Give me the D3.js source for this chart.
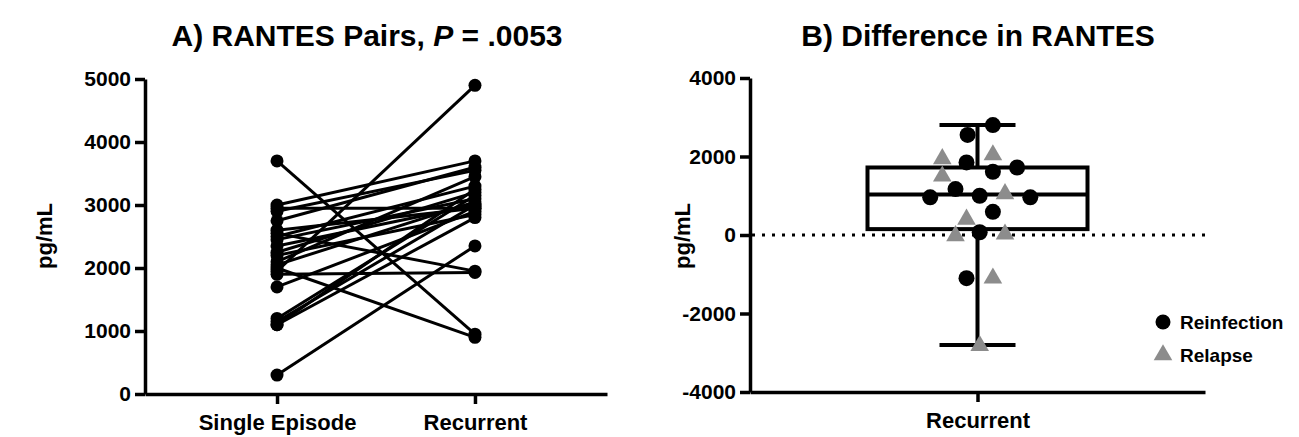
<!DOCTYPE html>
<html>
<head>
<meta charset="utf-8">
<script src="https://cdn.jsdelivr.net/npm/d3@7"></script>
<style>
  body { margin: 0; background: #fff; }
  svg text { font-family: "Liberation Sans", Arial, sans-serif; font-weight: bold; }
</style>
</head>
<body>
<script>
// panel A: paired values (pg/mL)
const groups = ["Single Episode", "Recurrent"];
const singleEpisode = [300, 3700, 1950, 2000, 1900, 2550, 2950, 3000, 2900, 2750, 2500, 2450, 2350, 2200, 2100, 2050, 1700, 1200, 1150, 1100, 1100, 2600, 2250];
const recurrent =     [2350, 950, 4900, 900, 1930, 1950, 2950, 3700, 3550, 3600, 3300, 3100, 3000, 2850, 3450, 3050, 2900, 3150, 3000, 2800, 3250, 2950, 3200];
const yTicksA = [0, 1000, 2000, 3000, 4000, 5000];

// panel B: differences, with dodge offsets (fraction of half box width)
const reinfection = [2800, 2550, 1850, 1610, 1720, 1170, 960, 1000, 960, 590, 70, -1100];
const reinfectionDodge = [0.14, -0.09, -0.1, 0.14, 0.36, -0.2, -0.43, 0.02, 0.48, 0.14, 0.02, -0.1];
const relapse = [1940, 2040, 1500, 1050, 400, -20, 20, -1100, -2820];
const relapseDodge = [-0.32, 0.14, -0.32, 0.25, -0.1, -0.2, 0.25, 0.14, 0.02];
const boxStats = { min: -2800, q1: 150, median: 1030, q3: 1720, max: 2800 };
const yTicksB = [-4000, -2000, 0, 2000, 4000];

const width = 1299, height = 437;
const svg = d3.select("body").append("svg").attr("width", width).attr("height", height);

function styleAxis(g) {
  g.selectAll("path, line").attr("stroke", "#000").attr("stroke-width", 3.5);
  g.selectAll("text").attr("font-size", 21).attr("fill", "#000");
}

// ---------- A ----------
const xA = d3.scalePoint().domain(groups).range([145, 607]).padding(0.667);
const yA = d3.scaleLinear().domain([0, 5000]).range([394, 79]);

svg.append("text").attr("x", 367).attr("y", 46).attr("text-anchor", "middle")
  .attr("font-size", 30)
  .html('A) RANTES Pairs, <tspan font-style="italic">P</tspan> = .0053');

svg.append("g").attr("transform", "translate(145,0)")
  .call(d3.axisLeft(yA).tickValues(yTicksA).tickFormat(d => String(d)).tickSize(10).tickSizeOuter(0).tickPadding(4))
  .call(styleAxis);

const axA = svg.append("g").attr("transform", "translate(0,394)")
  .call(d3.axisBottom(xA).tickSize(10).tickSizeOuter(0).tickPadding(10))
  .call(styleAxis);
axA.selectAll("text").attr("font-size", 22);

svg.append("text").attr("transform", "translate(52,236) rotate(-90)")
  .attr("text-anchor", "middle").attr("font-size", 22).text("pg/mL");

const pairs = singleEpisode.map((v, i) => [v, recurrent[i]]);
svg.append("g").selectAll("line").data(pairs).join("line")
  .attr("x1", xA(groups[0])).attr("x2", xA(groups[1]))
  .attr("y1", d => yA(d[0])).attr("y2", d => yA(d[1]))
  .attr("stroke", "#000").attr("stroke-width", 3);

svg.append("g").selectAll("circle").data(pairs.flatMap(d => [[0, d[0]], [1, d[1]]])).join("circle")
  .attr("cx", d => xA(groups[d[0]])).attr("cy", d => yA(d[1])).attr("r", 6.5).attr("fill", "#000");

// ---------- B ----------
const xB = d3.scalePoint().domain(["Recurrent"]).range([750, 1205]).padding(0.5);
const yB = d3.scaleLinear().domain([-4000, 4000]).range([392, 78]);
const cx = xB("Recurrent");
const half = 110;
const dodge = d3.scaleLinear().domain([-1, 1]).range([cx - half, cx + half]);

svg.append("text").attr("x", 978).attr("y", 46).attr("text-anchor", "middle")
  .attr("font-size", 30).text("B) Difference in RANTES");

svg.append("g").attr("transform", "translate(750,0)")
  .call(d3.axisLeft(yB).tickValues(yTicksB).tickFormat(d => String(d)).tickSize(10).tickSizeOuter(0).tickPadding(4))
  .call(styleAxis);

const axB = svg.append("g").attr("transform", "translate(0,392)")
  .call(d3.axisBottom(xB).tickSize(10).tickSizeOuter(0).tickPadding(10))
  .call(styleAxis);
axB.selectAll("text").attr("font-size", 22);

svg.append("text").attr("transform", "translate(690,236) rotate(-90)")
  .attr("text-anchor", "middle").attr("font-size", 22).text("pg/mL");

svg.append("line").attr("x1", 752).attr("x2", 1205)
  .attr("y1", yB(0)).attr("y2", yB(0))
  .attr("stroke", "#000").attr("stroke-width", 3).attr("stroke-dasharray", "3,7");

const box = svg.append("g").attr("stroke", "#000").attr("stroke-width", 4).attr("fill", "none");
box.append("line").attr("x1", cx).attr("x2", cx).attr("y1", yB(boxStats.max)).attr("y2", yB(boxStats.min));
box.append("rect").attr("x", cx - half).attr("width", 2 * half)
  .attr("y", yB(boxStats.q3)).attr("height", yB(boxStats.q1) - yB(boxStats.q3)).attr("fill", "#fff");
box.append("line").attr("x1", cx - half).attr("x2", cx + half).attr("y1", yB(boxStats.median)).attr("y2", yB(boxStats.median));
[boxStats.max, boxStats.min].forEach(v => {
  box.append("line").attr("x1", cx - 38).attr("x2", cx + 38).attr("y1", yB(v)).attr("y2", yB(v));
});

const tri = d3.symbol().type(d3.symbolTriangle).size(150);
svg.append("g").selectAll("path").data(relapse).join("path")
  .attr("d", tri)
  .attr("transform", (d, i) => `translate(${dodge(relapseDodge[i])},${yB(d)})`)
  .attr("fill", "#8c8c8c");

svg.append("g").selectAll("circle").data(reinfection).join("circle")
  .attr("cx", (d, i) => dodge(reinfectionDodge[i])).attr("cy", d => yB(d))
  .attr("r", 8).attr("fill", "#000");

// legend
const leg = svg.append("g").attr("transform", "translate(1163,322)");
leg.append("circle").attr("cx", 0).attr("cy", 0).attr("r", 7.5).attr("fill", "#000");
leg.append("text").attr("x", 17).attr("y", 7).attr("font-size", 19).text("Reinfection");
leg.append("path").attr("d", tri).attr("transform", "translate(0,33)").attr("fill", "#8c8c8c");
leg.append("text").attr("x", 17).attr("y", 40).attr("font-size", 19).text("Relapse");
</script>
</body>
</html>
